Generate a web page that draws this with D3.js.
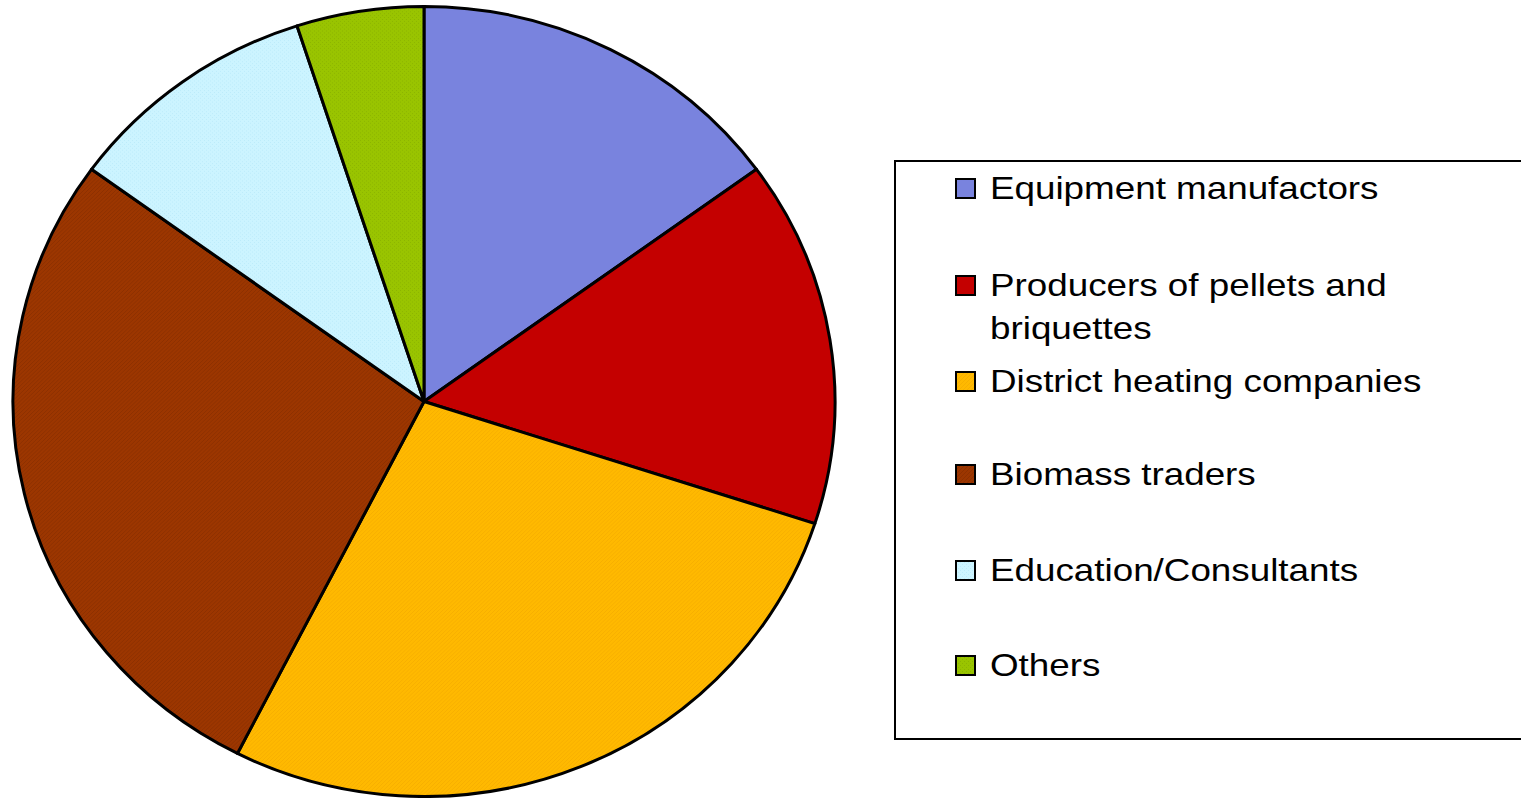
<!DOCTYPE html>
<html>
<head>
<meta charset="utf-8">
<script src="https://cdn.jsdelivr.net/npm/d3@7"></script>
<style>
  body { margin: 0; background: #fff; }
  svg { display: block; }
  text { font-family: "Liberation Sans", Arial, sans-serif; }
</style>
</head>
<body>
<script>
const categories = ["Equipment manufactors", "Producers of pellets and briquettes", "District heating companies", "Biomass traders", "Education/Consultants", "Others"]
const legendLines = [["Equipment manufactors"], ["Producers of pellets and", "briquettes"], ["District heating companies"], ["Biomass traders"], ["Education/Consultants"], ["Others"]]
const values = [6, 6, 11, 11, 4, 2]
const colors = ["#7f89e2", "#cc0000", "#ffb900", "#9c3600", "#ccf4ff", "#99c400"]
const lineColors = ["#727ddb", "#bd0000", "#f7af00", "#8d3000", "#bcebfa", "#8cb400"]

const width = 1521, height = 798
const cx = 424, cy = 401.5, rx = 411, ry = 395

const svg = d3.select("body").append("svg").attr("width", width).attr("height", height)
const defs = svg.append("defs")

// fill textures, one per slice
colors.forEach((c, i) => {
    let p = defs.append("pattern").attr("id", "pat" + i)
        .attr("patternUnits", "userSpaceOnUse").attr("width", 4).attr("height", 4)
    p.append("rect").attr("width", 4).attr("height", 4).attr("fill", c)
    let g = p.append("g").attr("stroke", lineColors[i]).attr("stroke-width", 1).attr("fill", "none")
    if (i == 0) g.append("path").attr("d", "M1,0V4M3,0V4")
    else if (i == 1) g.append("path").attr("d", "M0,1H4M0,3H4")
    else if (i == 2 || i == 3) g.append("path").attr("d", "M0,4L4,0M-1,1L1,-1M3,5L5,3")
    else g.append("path").attr("d", "M0,0.5H1M2,2.5H3")
})

const pie = d3.pie().sort(null).value(d => d)
const arc = d3.arc().innerRadius(0).outerRadius(rx)

let pieG = svg.append("g")
    .attr("transform", "translate(" + cx + "," + cy + ") scale(1," + (ry / rx) + ")")

pieG.selectAll("path")
    .data(pie(values))
    .enter()
    .append("path")
    .attr("d", arc)
    .attr("fill", (d, i) => "url(#pat" + i + ")")
    .attr("stroke", "#000")
    .attr("stroke-width", 3)
    .attr("stroke-linejoin", "round")
    .attr("vector-effect", "non-scaling-stroke")

// legend
let legend = svg.append("g")
legend.append("rect")
    .attr("x", 895).attr("y", 161).attr("width", 640).attr("height", 578)
    .attr("fill", "#fff").attr("stroke", "#000").attr("stroke-width", 2)

const rowY = [188, 285, 381, 474, 570, 665]
let item = legend.selectAll("g.item")
    .data(categories)
    .enter()
    .append("g")
    .attr("class", "item")
    .attr("transform", (d, i) => "translate(0," + rowY[i] + ")")

item.append("rect")
    .attr("x", 956).attr("y", -9).attr("width", 19).attr("height", 19)
    .attr("fill", (d, i) => "url(#pat" + i + ")")
    .attr("stroke", "#000").attr("stroke-width", 2)

// text in the original is wider than Arial, so stretch it a bit
item.each(function (d, i) {
    d3.select(this).append("g")
        .attr("transform", "translate(990,0) scale(1.15,1)")
        .selectAll("text")
        .data(legendLines[i])
        .enter()
        .append("text")
        .attr("x", 0)
        .attr("y", (t, j) => 11 + j * 43)
        .attr("font-size", 32)
        .attr("fill", "#000")
        .text(t => t)
})
</script>
</body>
</html>
